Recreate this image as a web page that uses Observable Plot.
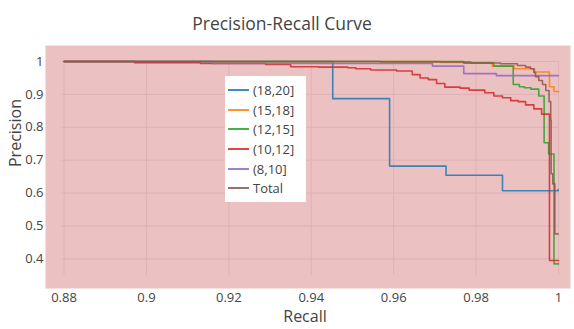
<!DOCTYPE html>
<html>
<head>
<meta charset="utf-8">
<script src="https://cdn.jsdelivr.net/npm/d3@7"></script>
<script src="https://cdn.jsdelivr.net/npm/@observablehq/plot@0.6"></script>
<style>
  html, body { margin: 0; padding: 0; background: #fff; }
  #wrap { position: relative; width: 574px; height: 329px; font-family: "Open Sans", sans-serif; }
  #legend { position: absolute; left: 225px; top: 76px; width: 81px; height: 126px; background: #fff; }
  .item { position: absolute; left: 3px; height: 20px; display: flex; align-items: center; font-size: 13px; color: #444; }
  .item svg { margin-right: 4px; }
</style>
</head>
<body>
<div id="wrap"></div>
<script>
// Series names and colours
const seriesNames = ["(18,20]", "(15,18]", "(12,15]", "(10,12]", "(8,10]", "Total"];
const seriesColors = ["#1f77b4", "#ff7f0e", "#2ca02c", "#d62728", "#9467bd", "#8c564b"];

// (18,20]
const recall_18_20 = [0.88, 0.9452, 0.959, 0.9727, 0.9864, 0.9999];
const precision_18_20 = [1.0, 0.887, 0.682, 0.654, 0.607, 0.611];
// (15,18]
const recall_15_18 = [0.88, 0.9714, 0.9839, 0.9892, 0.9942, 0.9978, 0.9989, 1.0];
const precision_15_18 = [1.0, 0.997, 0.986, 0.978, 0.968, 0.923, 0.909, 0.909];
// (12,15]
const recall_12_15 = [0.88, 0.977, 0.9843, 0.989, 0.9905, 0.9917, 0.9933, 0.9952, 0.9965, 0.9976, 0.9989, 1.0];
const precision_12_15 = [1.0, 0.995, 0.986, 0.930, 0.923, 0.920, 0.916, 0.895, 0.753, 0.719, 0.385, 0.385];
// (10,12]
const recall_10_12 = [0.88, 0.8971, 0.9131, 0.9289, 0.935, 0.9418, 0.9488, 0.9508, 0.9544, 0.9607, 0.9645, 0.9664, 0.9684, 0.9704, 0.9724, 0.9761, 0.9783, 0.9821, 0.9843, 0.9864, 0.9884, 0.9902, 0.992, 0.994, 0.9959, 0.9978, 1.0];
const precision_10_12 = [1.0, 0.996, 0.994, 0.991, 0.984, 0.983, 0.981, 0.978, 0.974, 0.971, 0.960, 0.950, 0.945, 0.933, 0.922, 0.919, 0.913, 0.905, 0.895, 0.890, 0.881, 0.878, 0.868, 0.856, 0.840, 0.395, 0.395];
// (8,10]
const recall_8_10 = [0.88, 0.916, 0.9694, 0.977, 0.9849, 1.0];
const precision_8_10 = [1.0, 0.994, 0.986, 0.963, 0.957, 0.957];
// Total
const recall_total = [0.88, 0.9568, 0.9787, 0.9859, 0.99, 0.992, 0.9932, 0.994, 0.9944, 0.9952, 0.9961, 0.9969, 0.9977, 0.9981, 0.9982, 0.9986, 0.9991, 0.9999];
const precision_total = [1.0, 0.9985, 0.9955, 0.993, 0.988, 0.983, 0.978, 0.967, 0.954, 0.942, 0.930, 0.912, 0.878, 0.821, 0.659, 0.628, 0.476, 0.476];

// Tick values
const xTicks = [0.88, 0.9, 0.92, 0.94, 0.96, 0.98, 1];
const yTicks = [0.4, 0.5, 0.6, 0.7, 0.8, 0.9, 1];

const recalls = [recall_18_20, recall_15_18, recall_12_15, recall_10_12, recall_8_10, recall_total];
const precisions = [precision_18_20, precision_15_18, precision_12_15, precision_10_12, precision_8_10, precision_total];

const rows = [];
seriesNames.forEach((name, i) => {
  recalls[i].forEach((r, j) => rows.push({series: name, recall: r, precision: precisions[i][j]}));
});

const font = "Open Sans";
const chart = Plot.plot({
  width: 574,
  height: 329,
  marginLeft: 45,
  marginRight: 4,
  marginTop: 45,
  marginBottom: 41,
  style: {fontFamily: font, background: "#fff", color: "#444", fontSize: "13px"},
  x: {domain: [0.8755, 1.0029]},
  y: {domain: [0.310, 1.0486]},
  color: {domain: seriesNames, range: seriesColors},
  marks: [
    Plot.frame({fill: "#ecc1c2", stroke: null}),
    Plot.ruleX(xTicks, {x: d => d, y1: 0.35, y2: 1, stroke: "#dfb2b4", strokeWidth: 1}),
    Plot.ruleY(yTicks, {y: d => d, x1: 0.8795, x2: 1, stroke: "#dfb2b4", strokeWidth: 1}),
    Plot.axisX({ticks: xTicks, tickSize: 0, tickPadding: 4, tickFormat: d => String(+d.toFixed(2)), label: null, fill: "#444", fontSize: 13}),
    Plot.axisY({ticks: yTicks, tickSize: 0, tickPadding: 2, tickFormat: d => String(+d.toFixed(1)), label: null, fill: "#444", fontSize: 13}),
    Plot.line(rows, {x: "recall", y: "precision", z: "series", stroke: "series", curve: "step-after", strokeWidth: 1.6, strokeOpacity: 0.85}),
    Plot.text(["Precision-Recall Curve"], {frameAnchor: "top", dy: -28, dx: -26, fontSize: 17.5, fill: "#444"}),
    Plot.text(["Recall"], {frameAnchor: "bottom", dy: 33, dx: -3, fontSize: 16, fill: "#444"}),
    Plot.text(["Precision"], {frameAnchor: "left", dx: -30, rotate: -90, fontSize: 16, fill: "#444"})
  ]
});

const wrap = document.getElementById("wrap");
wrap.appendChild(chart);

const legend = document.createElement("div");
legend.id = "legend";
const rowTops = [4, 23.5, 43, 63, 82.5, 102];
seriesNames.forEach((name, i) => {
  const item = document.createElement("div");
  item.className = "item";
  item.style.top = rowTops[i] + "px";
  item.innerHTML = `<svg width="21" height="4"><line x1="0" y1="2" x2="21" y2="2" stroke="${seriesColors[i]}" stroke-width="2" stroke-opacity="0.85"/></svg><span>${name}</span>`;
  legend.appendChild(item);
});
wrap.appendChild(legend);
</script>
</body>
</html>
